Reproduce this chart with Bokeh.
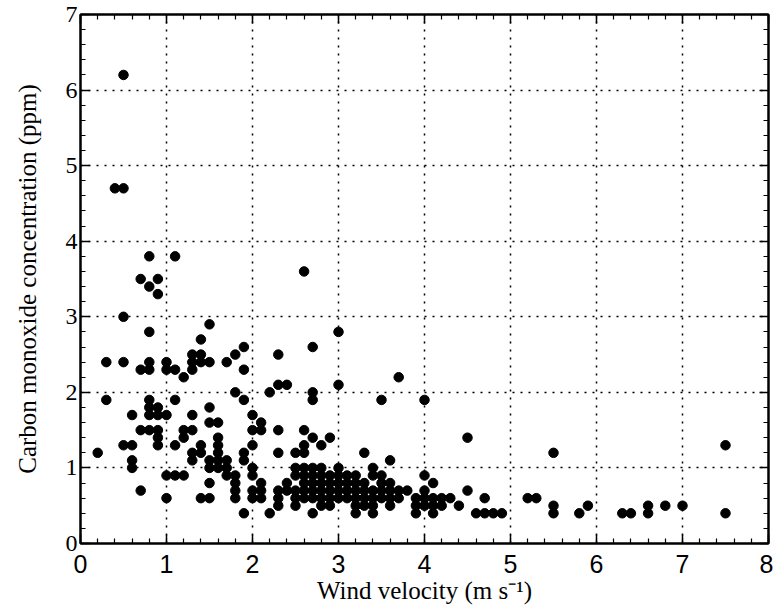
from bokeh.plotting import figure
from bokeh.models import LinearAxis, SingleIntervalTicker, Range1d, Grid
from bokeh.embed import file_html
from bokeh.resources import INLINE

# Wind velocity (m/s) and CO concentration (ppm)
wind_velocity = [
    0.5, 0.4, 0.5,
    0.8, 1.1, 0.7, 0.9, 0.8, 0.9, 2.6,
    0.5, 0.8, 1.5, 1.4, 1.3, 1.4,
    0.3, 0.5, 0.8, 1.0, 1.3, 1.4, 1.5, 1.7,
    0.7, 0.8, 1.0, 1.1, 1.3, 1.9,
    1.2, 1.8, 1.9, 2.3, 2.7, 3.0,
    2.3, 2.4, 3.0,
    1.8, 2.2, 2.7, 1.9, 2.7, 3.5, 4.0, 3.7,
    0.3, 0.8, 1.1,
    0.8, 0.9, 1.5,
    0.6, 0.8, 0.9, 1.0, 1.3, 2.0,
    1.5, 1.6, 2.1,
    0.7, 0.8, 0.9, 1.2, 1.3, 2.0, 2.1, 2.3, 2.6,
    0.9, 1.2, 1.6, 2.7, 2.9, 4.5,
    0.5, 0.6, 0.9, 1.1, 1.4, 1.6, 2.0, 2.6, 2.8, 7.5,
    0.2, 1.3, 1.4, 1.6, 1.9, 2.3, 2.5, 2.6, 3.3, 5.5,
    0.6, 1.3, 1.5, 1.6, 1.7, 1.9, 3.6,
    0.6, 1.5, 1.6, 1.7, 2.0, 2.5, 2.6, 2.7, 2.8, 3.0, 3.4,
    1.0, 1.1, 1.2, 1.7, 1.8, 2.0, 2.5, 2.6, 2.7, 2.8, 2.9, 3.0, 3.1, 3.2, 3.4, 3.5, 4.0,
    1.5, 1.8, 2.1, 2.4, 2.6, 2.7, 2.8, 2.9, 3.0, 3.1, 3.2, 3.3, 3.5, 3.6, 4.1,
    0.7, 1.8, 2.0, 2.1, 2.3, 2.4, 2.5, 2.6, 2.7, 2.8, 2.9, 3.0, 3.1, 3.2, 3.3, 3.4, 3.5,
    3.6, 3.7, 3.8, 4.0, 4.5,
    1.0, 1.4, 1.5, 1.8, 2.0, 2.1, 2.3, 2.5, 2.6, 2.7, 2.8, 2.9, 3.0, 3.1, 3.2, 3.3, 3.4,
    3.5, 3.6, 3.7, 3.9, 4.0, 4.1, 4.2, 4.3, 4.7, 5.2, 5.3,
    2.3, 2.5, 2.8, 2.9, 3.2, 3.3, 3.4, 3.6, 3.9, 4.0, 4.1, 4.2, 4.4, 5.5, 5.9, 6.6, 6.8, 7.0,
    1.9, 2.2, 2.7, 3.2, 3.4, 3.9, 4.1, 4.6, 4.7, 4.8, 4.9, 5.5, 5.8, 6.3, 6.4, 6.6, 7.5,
]

co_ppm = [
    6.2, 4.7, 4.7,
    3.8, 3.8, 3.5, 3.5, 3.4, 3.3, 3.6,
    3.0, 2.8, 2.9, 2.7, 2.5, 2.5,
    2.4, 2.4, 2.4, 2.4, 2.4, 2.4, 2.4, 2.4,
    2.3, 2.3, 2.3, 2.3, 2.3, 2.3,
    2.2, 2.5, 2.6, 2.5, 2.6, 2.8,
    2.1, 2.1, 2.1,
    2.0, 2.0, 2.0, 1.9, 1.9, 1.9, 1.9, 2.2,
    1.9, 1.9, 1.9,
    1.8, 1.8, 1.8,
    1.7, 1.7, 1.7, 1.7, 1.7, 1.7,
    1.6, 1.6, 1.6,
    1.5, 1.5, 1.5, 1.5, 1.5, 1.5, 1.5, 1.5, 1.5,
    1.4, 1.4, 1.4, 1.4, 1.4, 1.4,
    1.3, 1.3, 1.3, 1.3, 1.3, 1.3, 1.3, 1.3, 1.3, 1.3,
    1.2, 1.2, 1.2, 1.2, 1.2, 1.2, 1.2, 1.2, 1.2, 1.2,
    1.1, 1.1, 1.1, 1.1, 1.1, 1.1, 1.1,
    1.0, 1.0, 1.0, 1.0, 1.0, 1.0, 1.0, 1.0, 1.0, 1.0, 1.0,
    0.9, 0.9, 0.9, 0.9, 0.9, 0.9, 0.9, 0.9, 0.9, 0.9, 0.9, 0.9, 0.9, 0.9, 0.9, 0.9, 0.9,
    0.8, 0.8, 0.8, 0.8, 0.8, 0.8, 0.8, 0.8, 0.8, 0.8, 0.8, 0.8, 0.8, 0.8, 0.8,
    0.7, 0.7, 0.7, 0.7, 0.7, 0.7, 0.7, 0.7, 0.7, 0.7, 0.7, 0.7, 0.7, 0.7, 0.7, 0.7, 0.7,
    0.7, 0.7, 0.7, 0.7, 0.7,
    0.6, 0.6, 0.6, 0.6, 0.6, 0.6, 0.6, 0.6, 0.6, 0.6, 0.6, 0.6, 0.6, 0.6, 0.6, 0.6, 0.6,
    0.6, 0.6, 0.6, 0.6, 0.6, 0.6, 0.6, 0.6, 0.6, 0.6, 0.6,
    0.5, 0.5, 0.5, 0.5, 0.5, 0.5, 0.5, 0.5, 0.5, 0.5, 0.5, 0.5, 0.5, 0.5, 0.5, 0.5, 0.5, 0.5,
    0.4, 0.4, 0.4, 0.4, 0.4, 0.4, 0.4, 0.4, 0.4, 0.4, 0.4, 0.4, 0.4, 0.4, 0.4, 0.4, 0.4,
]

x_title = "Wind velocity (m s\u207b\u00b9)"
y_title = "Carbon monoxide concentration (ppm)"
x_limits = (0, 8)
y_limits = (0, 7)

p = figure(width=773, height=612, output_backend="svg", toolbar_location=None,
           x_range=Range1d(*x_limits), y_range=Range1d(*y_limits),
           x_axis_type=None, y_axis_type=None,
           min_border_left=80, min_border_right=5, min_border_top=14, min_border_bottom=69,
           background_fill_color="white", border_fill_color="white")

ticker = SingleIntervalTicker(interval=1, num_minor_ticks=5)


def style_axis(ax):
    ax.ticker = ticker
    ax.axis_line_color = "black"
    ax.axis_line_width = 2
    ax.major_tick_in = 9
    ax.major_tick_out = 0
    ax.minor_tick_in = 5
    ax.minor_tick_out = 0
    ax.major_tick_line_color = "black"
    ax.major_tick_line_width = 1.5
    ax.minor_tick_line_color = "black"
    ax.minor_tick_line_width = 1.2


xb = LinearAxis(axis_label=x_title)
style_axis(xb)
xb.major_label_text_font = "Liberation Sans"
xb.major_label_text_font_size = "25px"
xb.major_label_text_color = "black"
xb.major_label_standoff = 11
xb.axis_label_text_font = "Liberation Serif"
xb.axis_label_text_font_size = "25px"
xb.axis_label_text_font_style = "normal"
xb.axis_label_text_color = "black"
xb.axis_label_standoff = 1
p.add_layout(xb, "below")

yl = LinearAxis(axis_label=y_title)
style_axis(yl)
yl.major_label_text_font = "Liberation Serif"
yl.major_label_text_font_size = "24px"
yl.major_label_text_color = "black"
yl.major_label_standoff = 3
yl.axis_label_text_font = "Liberation Serif"
yl.axis_label_text_font_size = "25px"
yl.axis_label_text_font_style = "normal"
yl.axis_label_text_color = "black"
yl.axis_label_standoff = 22
p.add_layout(yl, "left")

for loc in ("above", "right"):
    ax = LinearAxis()
    style_axis(ax)
    ax.major_label_text_font_size = "1px"
    ax.major_label_text_color = None
    ax.major_label_standoff = 0
    p.add_layout(ax, loc)

for dim in (0, 1):
    g = Grid(dimension=dim, ticker=ticker, grid_line_color="black",
             grid_line_dash="2 6", grid_line_width=1.5)
    p.add_layout(g, "center")

p.outline_line_color = "black"
p.outline_line_width = 2

p.scatter(wind_velocity, co_ppm, size=9.5, marker="circle",
          fill_color="black", line_color="black")

open("out.html", "w").write(file_html(p, INLINE))
